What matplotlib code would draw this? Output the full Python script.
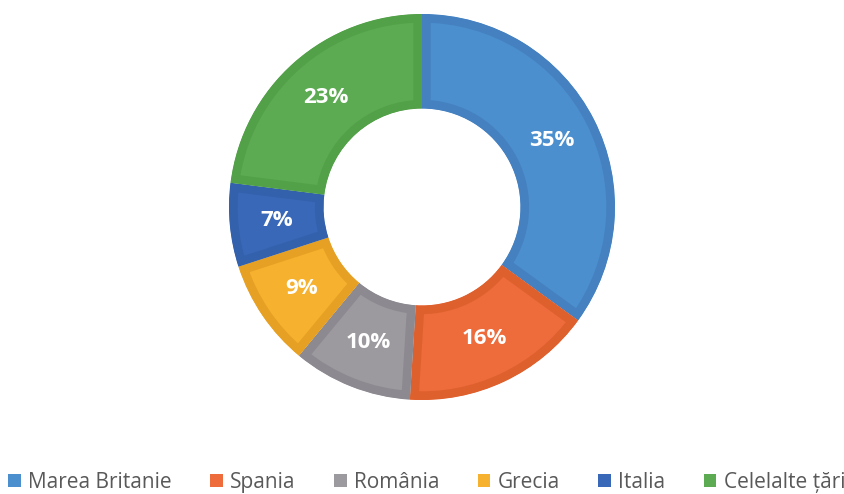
import matplotlib
matplotlib.use("Agg")
import matplotlib.pyplot as plt
import numpy as np

labels = ["Marea Britanie", "Spania", "România", "Grecia", "Italia", "Celelalte țări"]
values = [35, 16, 10, 9, 7, 23]
colors = ["#4b8fcf", "#ee6b3b", "#9d9a9f", "#f6b12f", "#3a68b9", "#5cab52"]
edges = ["#4581c0", "#de602d", "#8c8990", "#e6a125", "#3461ac", "#52a048"]

plt.rcParams["font.family"] = ["Open Sans", "DejaVu Sans"]

fig = plt.figure(figsize=(8.45, 4.94), dpi=100)
cx, cy, r = 422, 207, 193
ax = fig.add_axes([(cx - r) / 845, (494 - cy - r) / 494, 2 * r / 845, 2 * r / 494])

wedges, texts = ax.pie(values, colors=colors, startangle=90, counterclock=False,
                       radius=1, wedgeprops=dict(width=0.49))
for w, ec in zip(wedges, edges):
    w.set_edgecolor(ec)
    w.set_linewidth(12.5)
    w.set_clip_path(w)
    w.set_clip_on(True)

# etichete procentuale
ang = 90.0
for v in values:
    mid = np.deg2rad(ang - v * 3.6 / 2)
    ang -= v * 3.6
    rr = 0.755
    ax.text(rr * np.cos(mid), rr * np.sin(mid), f"{v}%", ha="center", va="center",
            color="white", fontsize=16, fontweight="bold")

ax.set_xlim(-1, 1)
ax.set_ylim(-1, 1)
ax.set_aspect("equal")
ax.axis("off")

leg = fig.legend(wedges, labels, loc="center", bbox_to_anchor=(0.505, 0.024), ncol=6,
                 frameon=False, fontsize=15, labelcolor="#595959",
                 handlelength=0.6, handleheight=0.6, handletextpad=0.35, columnspacing=1.85,
                 borderaxespad=0, borderpad=0)
for h in leg.legend_handles:
    h.set_linewidth(0)

fig.savefig("out.png", dpi=100)
